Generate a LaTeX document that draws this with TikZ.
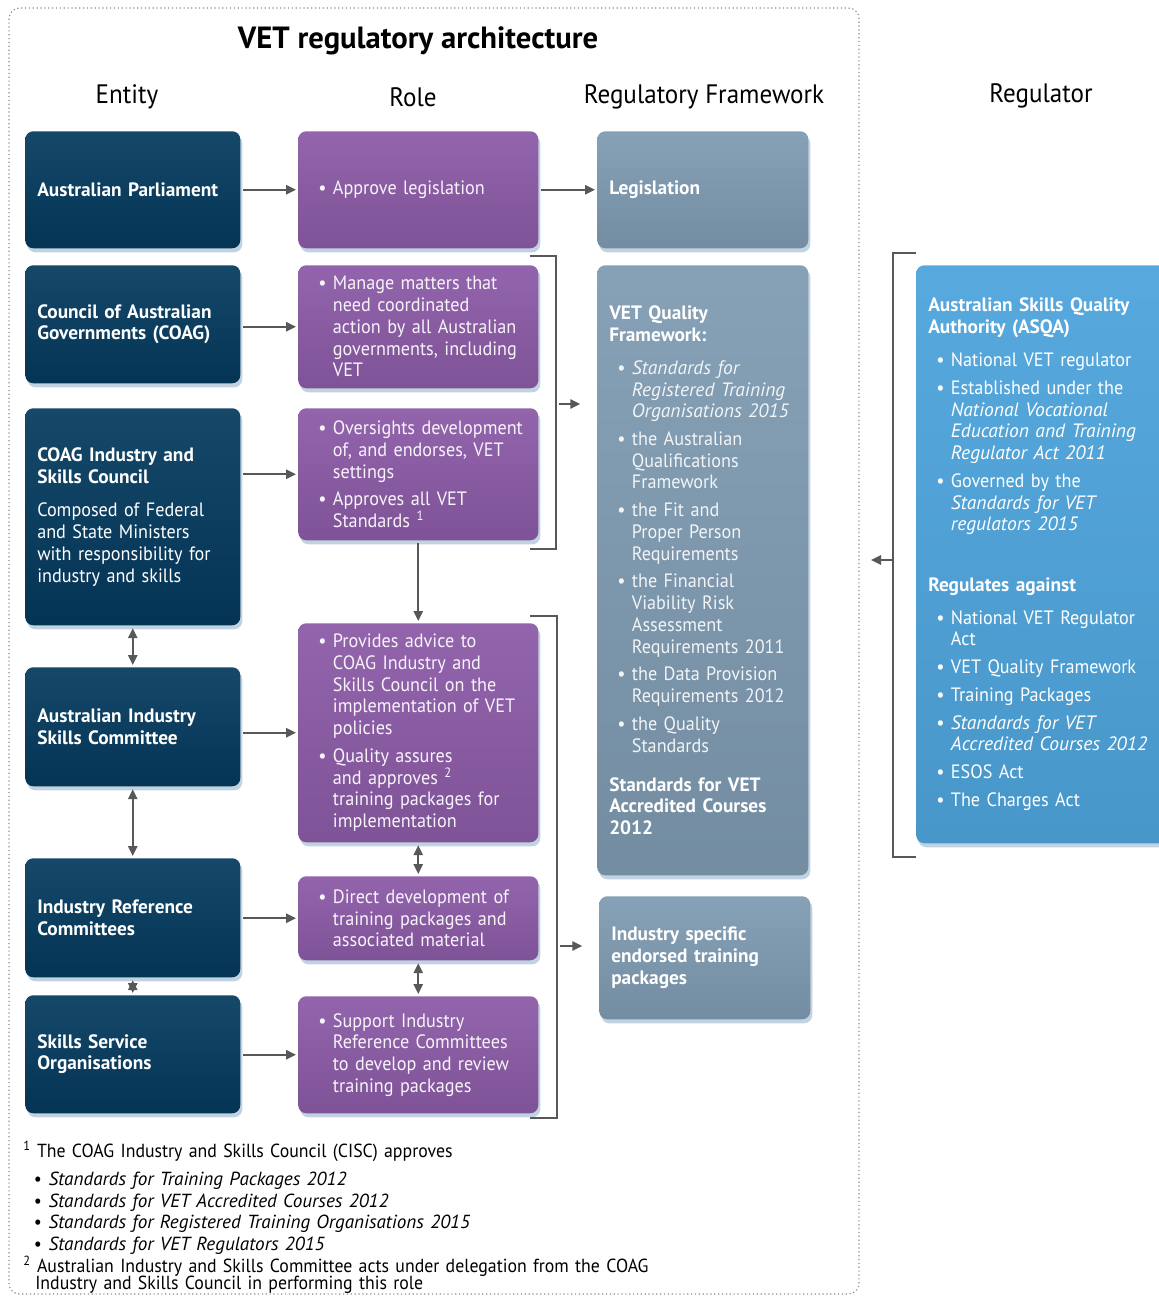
\documentclass[tikz,border=0pt]{standalone}
\usepackage{fontspec}
\setmainfont{PT Sans}[UprightFeatures={FakeStretch=0.94}, BoldFeatures={FakeStretch=1.0}, ItalicFeatures={FakeStretch=1.01}]
\usepackage{tikz}
\usetikzlibrary{arrows.meta,shadows,positioning}
\definecolor{entityNavy}{RGB}{4,58,94}
\definecolor{rolePurple}{RGB}{141,92,168}
\definecolor{frameGrey}{RGB}{128,156,179}
\definecolor{regBlue}{RGB}{78,164,220}
\definecolor{linkGrey}{RGB}{88,88,88}
\definecolor{shadowBlue}{RGB}{178,200,218}
\definecolor{frameDots}{RGB}{140,140,140}
\setlength{\parindent}{0pt}
\setlength{\parskip}{0pt}

\newcommand{\boxfont}{\fontsize{14.5}{16.3}\selectfont}
\newcommand{\nl}{\newline}
% bullet items with hanging indent
\newcommand{\fitm}{\noindent\hangindent=17pt\hbox to 17pt{\hspace{6pt}\textbullet\hfil}}
\newcommand{\itm}{\par\vspace{4.5pt}\fitm}
\newcommand{\nitm}{\par\noindent\hangindent=19pt\hbox to 19pt{\hspace{8pt}\textbullet\hfil}}

\tikzset{
  box/.style={anchor=north west, rounded corners=6pt, inner xsep=4pt, inner ysep=0pt,
    align=left, font=\boxfont, execute at begin node={\leftskip=5pt},
    drop shadow={shadow xshift=1.5pt, shadow yshift=-3pt, fill=shadowBlue, opacity=0.8}},
  entity/.style={box, text=white, font=\boxfont\bfseries, text width=153.25pt, minimum width=161.25pt,
    top color=entityNavy!93!white, bottom color=entityNavy!90!black},
  role/.style={box, text=white!93!rolePurple, text width=172pt, minimum width=180pt,
    top color=rolePurple!95!white, bottom color=rolePurple!90!black},
  frame/.style={box, text=white!90!frameGrey, text width=150.25pt, minimum width=158.25pt,
    top color=frameGrey!95!white, bottom color=frameGrey!90!black},
  regulator/.style={box, text=white, text width=187pt, minimum width=195pt,
    top color=regBlue!95!white, bottom color=regBlue!92!black},
  head/.style={font=\fontsize{20}{24}\selectfont},
  note/.style={anchor=north west, inner sep=0pt, align=left, text width=640pt},
  arr/.style={draw=linkGrey, line width=1.4pt, shorten <=2pt, shorten >=1.5pt,
    -{Triangle[length=7.5pt,width=7pt]}},
  darr/.style={arr, {Triangle[length=7.5pt,width=7pt]}-{Triangle[length=7.5pt,width=7pt]}},
  brk/.style={draw=linkGrey, line width=1.1pt}
}

\begin{document}
\begin{tikzpicture}[x=0.75pt,y=-0.75pt]

  \useasboundingbox (0,0) rectangle (1159,1297);
  \draw[frameDots, dotted, line width=0.9pt, rounded corners=8pt] (9,8) rectangle (859,1294);

  % titles
  \node[font=\fontsize{23}{27}\selectfont\bfseries] (title) at (418,41) {VET regulatory architecture};
  \node[head] (hEntity) at (127,97) {Entity};
  \node[head] (hRole) at (413,97) {Role};
  \node[head] (hFrame) at (704,97) {Regulatory Framework};
  \node[head] (hReg) at (1041,96) {Regulator};

  % entity column
  \node[entity, minimum height=87.75pt] (e1) at (25,131) {Australian Parliament};
  \node[entity, minimum height=88.5pt] (e2) at (25,265) {Council of Australian\nl Governments (COAG)};
  \node[entity, minimum height=162.75pt] (e3) at (25,408) {COAG Industry and\nl Skills Council\par\vspace{9pt}
    {\mdseries Composed of Federal\nl and State Ministers\nl with responsibility for\nl industry and skills}};
  \node[entity, minimum height=89.25pt] (e4) at (25,667) {Australian Industry\nl Skills Committee};
  \node[entity, minimum height=89.25pt] (e5) at (25,858) {Industry Reference\nl Committees};
  \node[entity, minimum height=88.5pt] (e6) at (25,995) {Skills Service\nl Organisations};

  % role column
  \node[role, minimum height=87.75pt] (r1) at (298,131) {\fitm Approve legislation\par};
  \node[role, minimum height=92.25pt] (r2) at (298,265) {\fitm Manage matters that\nl need coordinated\nl
    action by all Australian\nl governments, including\nl VET\par};
  \node[role, minimum height=99pt] (r3) at (298,408) {\fitm Oversights development\nl of, and endorses, VET\nl settings
    \itm Approves all VET\nl Standards \textsuperscript{1}\par};
  \node[role, minimum height=164.25pt] (r4) at (298,623) {\fitm Provides advice to\nl COAG Industry and\nl
    Skills Council on the\nl implementation of VET\nl policies
    \itm Quality assures\nl and approves \textsuperscript{2}\nl training packages for\nl implementation\par};
  \node[role, minimum height=63pt] (r5) at (298,876) {\fitm Direct development of\nl training packages and\nl associated material\par};
  \node[role, minimum height=87.75pt] (r6) at (298,996) {\fitm Support Industry\nl Reference Committees\nl
    to develop and review\nl training packages\par};

  % regulatory framework column
  \node[frame, minimum height=87.75pt] (f1) at (597,131) {\textcolor{white}{\bfseries Legislation}};
  \node[frame, minimum height=457.5pt] (f2) at (597,265) {{\color{white}\bfseries VET Quality\nl Framework:}\par\vspace{4pt}
    \itm \textit{Standards for\nl Registered Training\nl Organisations 2015}
    \itm the Australian\nl Qualifications\nl Framework
    \itm the Fit and\nl Proper Person\nl Requirements
    \itm the Financial\nl Viability Risk\nl Assessment\nl Requirements 2011
    \itm the Data Provision\nl Requirements 2012
    \itm the Quality\nl Standards
    \par\vspace{13pt}
    {\color{white}\bfseries Standards for VET\nl Accredited Courses\nl 2012}\par};
  \node[frame, minimum height=92.25pt] (f3) at (599,896) {{\color{white}\bfseries Industry specific\nl endorsed training\nl packages}};

  % regulator
  \node[regulator, minimum height=433.5pt] (reg) at (916,265) {{\bfseries Australian Skills Quality\nl Authority (ASQA)}\par\vspace{4pt}
    \itm National VET regulator
    \itm Established under the\nl \textit{National Vocational\nl Education and Training\nl Regulator Act 2011}
    \itm Governed by the\nl \textit{Standards for VET\nl regulators 2015}
    \par\vspace{29pt}
    {\bfseries Regulates against}\par\vspace{4pt}
    \itm National VET Regulator\nl Act
    \itm VET Quality Framework
    \itm Training Packages
    \itm \textit{Standards for VET\nl Accredited Courses 2012}
    \itm ESOS Act
    \itm The Charges Act\par};

  % entity to role
  \foreach \i in {1,...,6}
    \draw[arr] (e\i.east |- r\i.west) -- (r\i.west);
  \draw[arr] (r1.east) -- (f1.west);
  \draw[arr] (r3.south) -- (r4.north);
  \draw[darr] (r4.south) -- (r5.north);
  \draw[darr] (r5.south) -- (r6.north);
  \draw[darr] (e3.south) -- (e4.north);
  \draw[darr] (e4.south) -- (e5.north);
  \draw[darr] (e5.south) -- (e6.north);

  % brackets
  \coordinate (b1) at (556,404);
  \coordinate (b2) at (557,946);
  \coordinate (b3) at (893,560);
  \coordinate (regOut) at (869,560);
  \draw[brk] (530,256) -| (b1) |- (530,549);
  \draw[brk] (530,616) -| (b2) |- (530,1118);
  \draw[brk] (916,253) -| (b3) |- (916,857);
  \draw[arr, shorten >=12.5pt] (b1) -- (b1 -| f2.west);
  \draw[arr, shorten >=12.5pt] (b2) -- (b2 -| f3.west);
  \draw[arr, shorten <=0pt] (b3) -- (regOut);

  % footnotes
  \node[note, font=\fontsize{14.2}{16.3}\selectfont] (fn1) at (23,1141) {\textsuperscript{1} The COAG Industry and Skills Council (CISC) approves\par\vspace{4.5pt}
    \nitm \textit{Standards for Training Packages 2012}
    \nitm \textit{Standards for VET Accredited Courses 2012}
    \nitm \textit{Standards for Registered Training Organisations 2015}
    \nitm \textit{Standards for VET Regulators 2015}\par};
  \node[note, font=\fontsize{14.2}{12.8}\selectfont, below=1pt of fn1.south west, anchor=north west] (fn2)
    {\lineskiplimit=-8pt\hangindent=9pt\textsuperscript{2} Australian Industry and Skills Committee acts under delegation from the COAG\nl
    Industry and Skills Council in performing this role\par};

\end{tikzpicture}
\end{document}
